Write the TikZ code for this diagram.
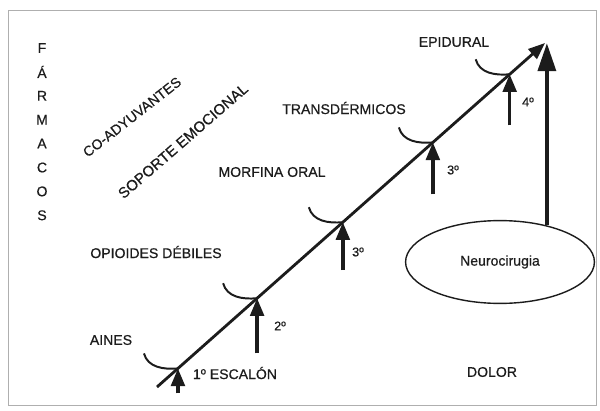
\documentclass[tikz,border=0pt]{standalone}
\usepackage{fontspec}
\setmainfont{Liberation Sans}
\newfontfamily\diagfont{Liberation Sans}[FakeBold=0.6]
\usetikzlibrary{positioning,arrows.meta,calc,shapes.geometric}
\definecolor{InkBlack}{RGB}{28,28,28}
\definecolor{FrameGray}{RGB}{175,175,175}
\tikzset{
  stairline/.style={-{Triangle[length=4.2mm,width=3.2mm]},line width=2pt,draw=InkBlack},
  stepup/.style={-{Triangle[length=4.4mm,width=3.4mm]},line width=2.4pt,draw=InkBlack},
  bigup/.style={-{Triangle[length=7mm,width=4.4mm]},line width=3pt,draw=InkBlack},
  cup/.style={line width=1.4pt,draw=InkBlack},
  lbl/.style={inner sep=0pt,font=\diagfont\fontsize{10}{12}\selectfont,text=InkBlack},
  tag/.style={inner sep=0pt,font=\diagfont\fontsize{9}{11}\selectfont,text=InkBlack},
  surgery/.style={ellipse,draw=InkBlack,line width=1pt,minimum width=4.72cm,
    minimum height=2.07cm,inner sep=0pt,font=\diagfont\fontsize{10}{12}\selectfont,text=InkBlack}
}
\begin{document}
\begin{tikzpicture}[x=0.025cm,y=0.025cm]
  \useasboundingbox (0,0) rectangle (600,410);
  \draw[FrameGray,line width=0.6pt] (8,5) rectangle (596,400);
  \coordinate (base) at (157,23);
  \coordinate (apex) at (545,367);
  \draw[stairline] (base) -- (apex);
  \foreach \n/\f in {1/0.054,2/0.258,3/0.479,4/0.711,5/0.909}
    \coordinate (s\n) at ($(base)!\f!(apex)$);
  \foreach \n in {1,...,5}
    \draw[cup] ($(s\n)+(-34,15)$) to[out=-75,in=185] (s\n);
  \foreach \n/\l in {1/25,2/55,3/48,4/52,5/51}
    \coordinate (t\n) at ($(s\n)+(0,-\l)$);
  \foreach \n in {1,...,5}
    \draw[stepup] (t\n) -- (s\n);
  \node[surgery] (neuro) at (500,148) {Neurocirugia};
  \draw[bigup] (neuro.38) -- (neuro.38 |- apex);
  \node[lbl] (aines) at (111,70) {AINES};
  \node[lbl] (opioides) at (156,158) {OPIOIDES DÉBILES};
  \node[lbl] (morfina) at (272,238) {MORFINA ORAL};
  \node[lbl] (transd) at (344,302) {TRANSDÉRMICOS};
  \node[lbl] (epidural) at (454,368) {EPIDURAL};
  \node[lbl] (escalon) at (235,37) {1º ESCALÓN};
  \node[lbl] (dolor) at (492,38) {DOLOR};
  \node[tag] (ord2) at (280,84) {2º};
  \node[tag] (ord3) at (358,158) {3º};
  \node[tag] (ord3b) at (453,240) {3º};
  \node[tag] (ord4) at (528,308) {4º};
  \node[lbl,rotate=38] (coadyuv) at (132,293) {CO-ADYUVANTES};
  \node[lbl,rotate=41,font=\diagfont\fontsize{10.6}{12}\selectfont] (soporte) at (183,269) {SOPORTE EMOCIONAL};
  \foreach \c [count=\i from 0] in {F,Á,R,M,A,C,O,S}
    \node[lbl] (farm\i) at (42,{362-23.9*\i}) {\c};
\end{tikzpicture}
\end{document}
